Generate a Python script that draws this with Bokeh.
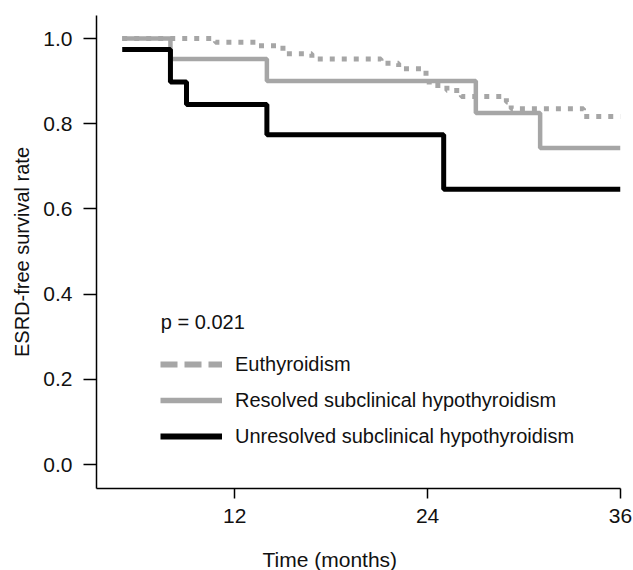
from bokeh.plotting import figure
from bokeh.models import Range1d, FixedTicker, PrintfTickFormatter, Label, Legend, LegendItem, Title
from bokeh.embed import file_html
from bokeh.resources import INLINE

# ---- data ----
eu_time = [5, 10.8, 13.3, 15.0, 16.8, 21.1, 22.2, 23.9, 24.1, 25.2, 26.1, 28.9, 29.2, 33.7, 36]
eu_surv = [1.0, 0.991, 0.983, 0.964, 0.952, 0.942, 0.929, 0.910, 0.890, 0.878, 0.864, 0.851, 0.835, 0.817, 0.817]

res_time = [5, 8, 14, 27, 31, 36]
res_surv = [1.0, 0.952, 0.900, 0.825, 0.743, 0.743]

unres_time = [5, 8, 9, 14, 25, 36]
unres_surv = [0.974, 0.898, 0.845, 0.774, 0.646, 0.646]

x_ticks = [12, 24, 36]
y_ticks = [0.0, 0.2, 0.4, 0.6, 0.8, 1.0]
series_names = ["Euthyroidism", "Resolved subclinical hypothyroidism", "Unresolved subclinical hypothyroidism"]
p_text = "p = 0.021"
x_title = "Time (months)"
y_title = "ESRD-free survival rate"

GRAY = "#a6a6a6"
BLACK = "#000000"
FONT = "Liberation Sans"
TXT = "#111111"
NAN = float("nan")

p = figure(width=633, height=570, output_backend="svg", toolbar_location=None,
           x_range=Range1d(3.4, 36), y_range=Range1d(-0.056, 1.054),
           min_border_left=96, min_border_right=13, min_border_top=15, min_border_bottom=81)
p.outline_line_color = None
p.grid.visible = False
p.background_fill_color = "white"
p.border_fill_color = "white"

# axes
p.xaxis.ticker = FixedTicker(ticks=x_ticks)
p.yaxis.ticker = FixedTicker(ticks=y_ticks)
p.yaxis.formatter = PrintfTickFormatter(format="%.1f")
for ax in (p.xaxis[0], p.yaxis[0]):
    ax.axis_line_color = BLACK
    ax.axis_line_width = 1.5
    ax.major_tick_line_color = BLACK
    ax.major_tick_line_width = 1.5
    ax.major_tick_in = 0
    ax.minor_tick_line_color = None
    ax.major_label_text_font = FONT
    ax.major_label_text_font_size = "21px"
    ax.major_label_text_color = TXT
p.xaxis.major_tick_out = 10
p.xaxis.major_label_standoff = 10
# tiny blank axis label used only as vertical spacing above the x title
p.xaxis.axis_label = " "
p.xaxis.axis_label_text_font_size = "1px"
p.xaxis.axis_label_standoff = 16
p.yaxis.major_tick_out = 13
p.yaxis.major_label_standoff = 11
p.yaxis.axis_label = y_title
p.yaxis.axis_label_text_font = FONT
p.yaxis.axis_label_text_font_size = "20px"
p.yaxis.axis_label_text_font_style = "normal"
p.yaxis.axis_label_text_color = TXT
p.yaxis.axis_label_standoff = 7

# x axis title, shifted left of the frame centre as in the reference
p.add_layout(Title(text=x_title, align="left", offset=166, standoff=0,
                   text_font=FONT, text_font_size="21px", text_font_style="normal",
                   text_color=TXT), "below")

# curves
p.step(eu_time, eu_surv, mode="after", line_color=GRAY, line_width=5, line_dash="5 7")
p.step(res_time, res_surv, mode="after", line_color=GRAY, line_width=4.5)
p.step(unres_time, unres_surv, mode="after", line_color=BLACK, line_width=5)

# legend-only renderers (legend shows longer dashes than the plotted dotted curve)
lg_eu = p.line([NAN], [NAN], line_color=GRAY, line_width=6, line_dash="17 7")
lg_res = p.line([NAN], [NAN], line_color=GRAY, line_width=5.5)
lg_unres = p.line([NAN], [NAN], line_color=BLACK, line_width=6)
legend = Legend(items=[LegendItem(label=series_names[0], renderers=[lg_eu]),
                       LegendItem(label=series_names[1], renderers=[lg_res]),
                       LegendItem(label=series_names[2], renderers=[lg_unres])],
                location=(64, 40), padding=0, margin=0, spacing=12,
                glyph_width=62, glyph_height=24, label_height=24, label_standoff=13,
                label_text_font=FONT, label_text_font_size="20px", label_text_color=TXT,
                background_fill_alpha=0, border_line_alpha=0)
p.add_layout(legend, "center")

# p-value text
p.add_layout(Label(x=7.4, y=0.3356, text=p_text, text_font=FONT, text_font_size="20px",
                   text_color=TXT, text_baseline="middle", text_align="left"))

open("out.html", "w").write(file_html(p, INLINE))
